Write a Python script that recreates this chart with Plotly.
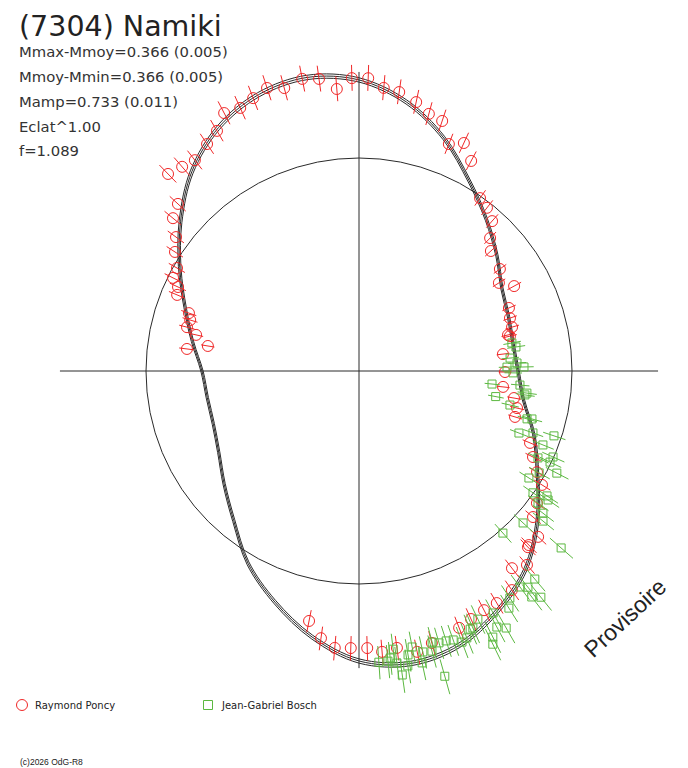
import numpy as np
import plotly.graph_objects as go

# ---------------- data ----------------
TITLE = "(7304) Namiki"
STATS = ["Mmax-Mmoy=0.366 (0.005)", "Mmoy-Mmin=0.366 (0.005)",
         "Mamp=0.733 (0.011)", "Eclat^1.00", "f=1.089"]
OBSERVERS = ["Raymond Poncy", "Jean-Gabriel Bosch"]

# model: phase angle (deg, clockwise from top) and relative magnitude
MODEL_ANGLE = [0, 10, 20, 30, 40, 50, 60, 70, 80, 90, 100, 110, 120, 130, 140, 150, 160, 170,
               180, 190, 200, 210, 220, 230, 240, 250, 260, 270, 280, 290, 300, 310, 320, 330, 340, 350]
MODEL_DMAG = [-0.339, -0.270, -0.165, -0.035, 0.079, 0.183, 0.277, 0.317, 0.335, 0.317, 0.264, 0.147,
              0.036, -0.097, -0.212, -0.285, -0.343, -0.361, -0.335, -0.258, -0.156, -0.045, 0.096,
              0.207, 0.297, 0.345, 0.352, 0.331, 0.251, 0.153, 0.031, -0.097, -0.217, -0.301, -0.350, -0.365]
MODEL_SIGMA = 0.008

PONCY_ANGLE = [315.9, 319.1, 322.1, 326.2, 329.4, 332.4, 335.7, 338.8, 342.0, 345.2, 349.0, 352.2,
               355.5, 358.6, 1.8, 5.0, 8.2, 312.7, 309.4, 306.2, 12.0, 15.2, 18.4, 21.6, 24.7, 28.1,
               35.0, 38.1, 41.6, 44.6, 47.7, 54.1, 57.8, 61.3, 67.2, 70.7, 74.0, 77.0, 83.3, 90.4,
               96.3, 99.9, 103.2, 106.4, 112.8, 116.3, 119.6, 121.9, 126.6, 130.0, 132.8, 135.7,
               191.3, 188.1, 185.0, 181.7, 178.3, 175.3, 172.2, 168.3, 165.0, 158.7, 155.7, 152.4,
               149.3, 145.1, 142.2, 139.1, 136.2, 302.9, 299.5, 296.6, 294.9, 292.7, 288.8, 286.8,
               284.3, 282.5, 277.3, 279.4, 76.4]
PONCY_DMAG = [-0.275, -0.258, -0.246, -0.270, -0.293, -0.339, -0.330, -0.345, -0.363, -0.345, -0.363,
              -0.353, -0.308, -0.346, -0.346, -0.313, -0.304, -0.158, -0.133, -0.068, -0.277, -0.243,
              -0.231, -0.148, -0.178, -0.121, 0.010, 0.029, 0.066, 0.143, 0.193, 0.220, 0.275, 0.202,
              0.293, 0.311, 0.316, 0.346, 0.418, 0.410, 0.418, 0.329, 0.295, 0.293, 0.150, 0.101,
              0.043, -0.013, -0.043, -0.070, -0.148, -0.144, -0.195, -0.257, -0.289, -0.286, -0.286,
              -0.304, -0.295, -0.323, -0.303, -0.280, -0.266, -0.257, -0.257, -0.246, -0.172, -0.202,
              -0.148, -0.031, 0.020, 0.026, 0.071, 0.084, 0.185, 0.205, 0.198, 0.265, 0.223, 0.358, 0.357]
PONCY_ERR = 0.048

BOSCH_ANGLE = [79.6, 81.3, 85.1, 87.1, 88.5, 88.6, 90.7, 95.6, 95.0, 100.6, 97.5, 102.7, 98.2, 105.9,
               105.5, 111.2, 109.6, 108.4, 111.9, 115.9, 113.9, 115.5, 117.3, 122.2, 119.5, 125.0,
               123.6, 124.3, 126.4, 127.7, 129.2, 132.8, 138.4, 131.2, 139.8, 142.0, 143.3, 142.6,
               141.2, 146.4, 147.7, 151.0, 154.4, 151.7, 150.2, 156.7, 153.3, 153.9, 159.2, 160.7,
               162.1, 163.6, 164.9, 167.2, 169.1, 170.2, 173.0, 173.8, 176.1, 174.3, 172.6, 170.6,
               167.8, 171.9, 164.3, 156.1, 158.0, 165.4]
BOSCH_DMAG = [0.342, 0.319, 0.369, 0.323, 0.395, 0.277, 0.352, 0.506, 0.300, 0.463, 0.249, 0.347,
              0.260, 0.215, 0.186, 0.235, 0.155, 0.039, 0.078, 0.074, 0.004, 0.007, -0.048, 0.064,
              0.031, 0.003, -0.063, -0.078, -0.047, -0.095, -0.118, -0.053, -0.019, -0.252, -0.267,
              -0.275, -0.255, -0.314, -0.336, -0.268, -0.299, -0.284, -0.278, -0.338, -0.358, -0.301,
              -0.364, -0.387, -0.335, -0.316, -0.311, -0.310, -0.300, -0.328, -0.301, -0.328, -0.298,
              -0.330, -0.342, -0.341, -0.352, -0.368, -0.367, -0.397, -0.432, -0.301, -0.327, -0.333]
BOSCH_ERR = 0.062

# ---------------- helpers ----------------
PAGE_MARGIN = 8                     # browser default body margin
W, H = 688 - PAGE_MARGIN, 768 - PAGE_MARGIN
CX, CY, SCALE = 359 - PAGE_MARGIN, 371 - PAGE_MARGIN, 213.0   # centre (px in figure) and px per unit flux
AXIS_EXT = 1.404
RED = "#f02828"
GREEN = "#5cb841"
DARK = "#2a2a2a"


def to_xy(angle, dmag):
    f = 10 ** (-0.4 * np.asarray(dmag, dtype=float))
    a = np.radians(np.asarray(angle, dtype=float))
    return f * np.sin(a), f * np.cos(a)


def bars(angle, dmag, err):
    x1, y1 = to_xy(angle, np.asarray(dmag) - err)
    x2, y2 = to_xy(angle, np.asarray(dmag) + err)
    xs, ys = [], []
    for a, b, c, d in zip(x1, y1, x2, y2):
        xs += [a, c, None]
        ys += [b, d, None]
    return xs, ys


fig = go.Figure()

# model (three close curves)
for off in (-MODEL_SIGMA, 0.0, MODEL_SIGMA):
    ang = MODEL_ANGLE + [MODEL_ANGLE[0] + 360]
    dm = [v + off for v in MODEL_DMAG] + [MODEL_DMAG[0] + off]
    mx, my = to_xy(ang, dm)
    fig.add_trace(go.Scatter(x=mx, y=my, mode="lines", line=dict(color=DARK, width=1, shape="spline", smoothing=1.0),
                             hoverinfo="skip", showlegend=False))

# observers
for ang, dm, err, col, sym, size in [
    (PONCY_ANGLE, PONCY_DMAG, PONCY_ERR, RED, "circle-open", 11),
    (BOSCH_ANGLE, BOSCH_DMAG, BOSCH_ERR, GREEN, "square-open", 8),
]:
    bx, by = bars(ang, dm, err)
    fig.add_trace(go.Scatter(x=bx, y=by, mode="lines", line=dict(color=col, width=1),
                             hoverinfo="skip", showlegend=False))
    px_, py_ = to_xy(ang, dm)
    fig.add_trace(go.Scatter(x=px_, y=py_, mode="markers",
                             marker=dict(symbol=sym, size=size, color=col, line=dict(color=col, width=1)),
                             showlegend=False))

shapes = [
    dict(type="circle", xref="x", yref="y", x0=-1, x1=1, y0=-1, y1=1,
         line=dict(color=DARK, width=1), layer="below"),
    dict(type="line", xref="x", yref="y", x0=-AXIS_EXT, x1=AXIS_EXT, y0=0, y1=0,
         line=dict(color=DARK, width=1), layer="below"),
    dict(type="line", xref="x", yref="y", x0=0, x1=0, y0=-1.395, y1=AXIS_EXT,
         line=dict(color=DARK, width=1), layer="below"),
]


def px2paper(x, y):
    # x, y are window pixels; convert to figure paper coords
    return (x - PAGE_MARGIN) / W, 1 - (y - PAGE_MARGIN) / H


# legend symbols
lx, ly = px2paper(22, 705)
r = 5.5
shapes.append(dict(type="circle", xref="paper", yref="paper", x0=lx - r / W, x1=lx + r / W,
                   y0=ly - r / H, y1=ly + r / H, line=dict(color=RED, width=1)))
lx2, _ = px2paper(208, 705)
s = 4.5
shapes.append(dict(type="rect", xref="paper", yref="paper", x0=lx2 - s / W, x1=lx2 + s / W,
                   y0=ly - s / H, y1=ly + s / H, line=dict(color=GREEN, width=1)))

ann = []


def text(x, y, t, size, family="DejaVu Sans", color="#333333", angle=0, xanchor="left"):
    px_, py_ = px2paper(x, y)
    ann.append(dict(x=px_, y=py_, xref="paper", yref="paper", text=t, showarrow=False,
                    xanchor=xanchor, yanchor="middle", textangle=angle, borderpad=0,
                    font=dict(family=family, size=size, color=color)))


text(18, 26.5, TITLE, 28.5, color="#222222")
for i, line in enumerate(STATS):
    text(18, 51 + 25 * i, line, 14.8)
text(34, 705, OBSERVERS[0], 10, color="#222222")
text(220, 705, OBSERVERS[1], 10, color="#222222")
text(19, 762, "(c)2026 OdG-R8", 8.5, family="Liberation Sans", color="#222222")
text(625, 618, "Provisoire", 23, family="Liberation Sans", color="#222222", angle=-43, xanchor="center")

fig.update_layout(
    width=W, height=H, autosize=False,
    margin=dict(l=0, r=0, t=0, b=0, pad=0),
    paper_bgcolor="white", plot_bgcolor="white",
    xaxis=dict(range=[-CX / SCALE, (W - CX) / SCALE], visible=False, fixedrange=True),
    yaxis=dict(range=[-(H - CY) / SCALE, CY / SCALE], visible=False, fixedrange=True),
    shapes=shapes, annotations=ann, showlegend=False,
)

fig.write_html("out.html")
